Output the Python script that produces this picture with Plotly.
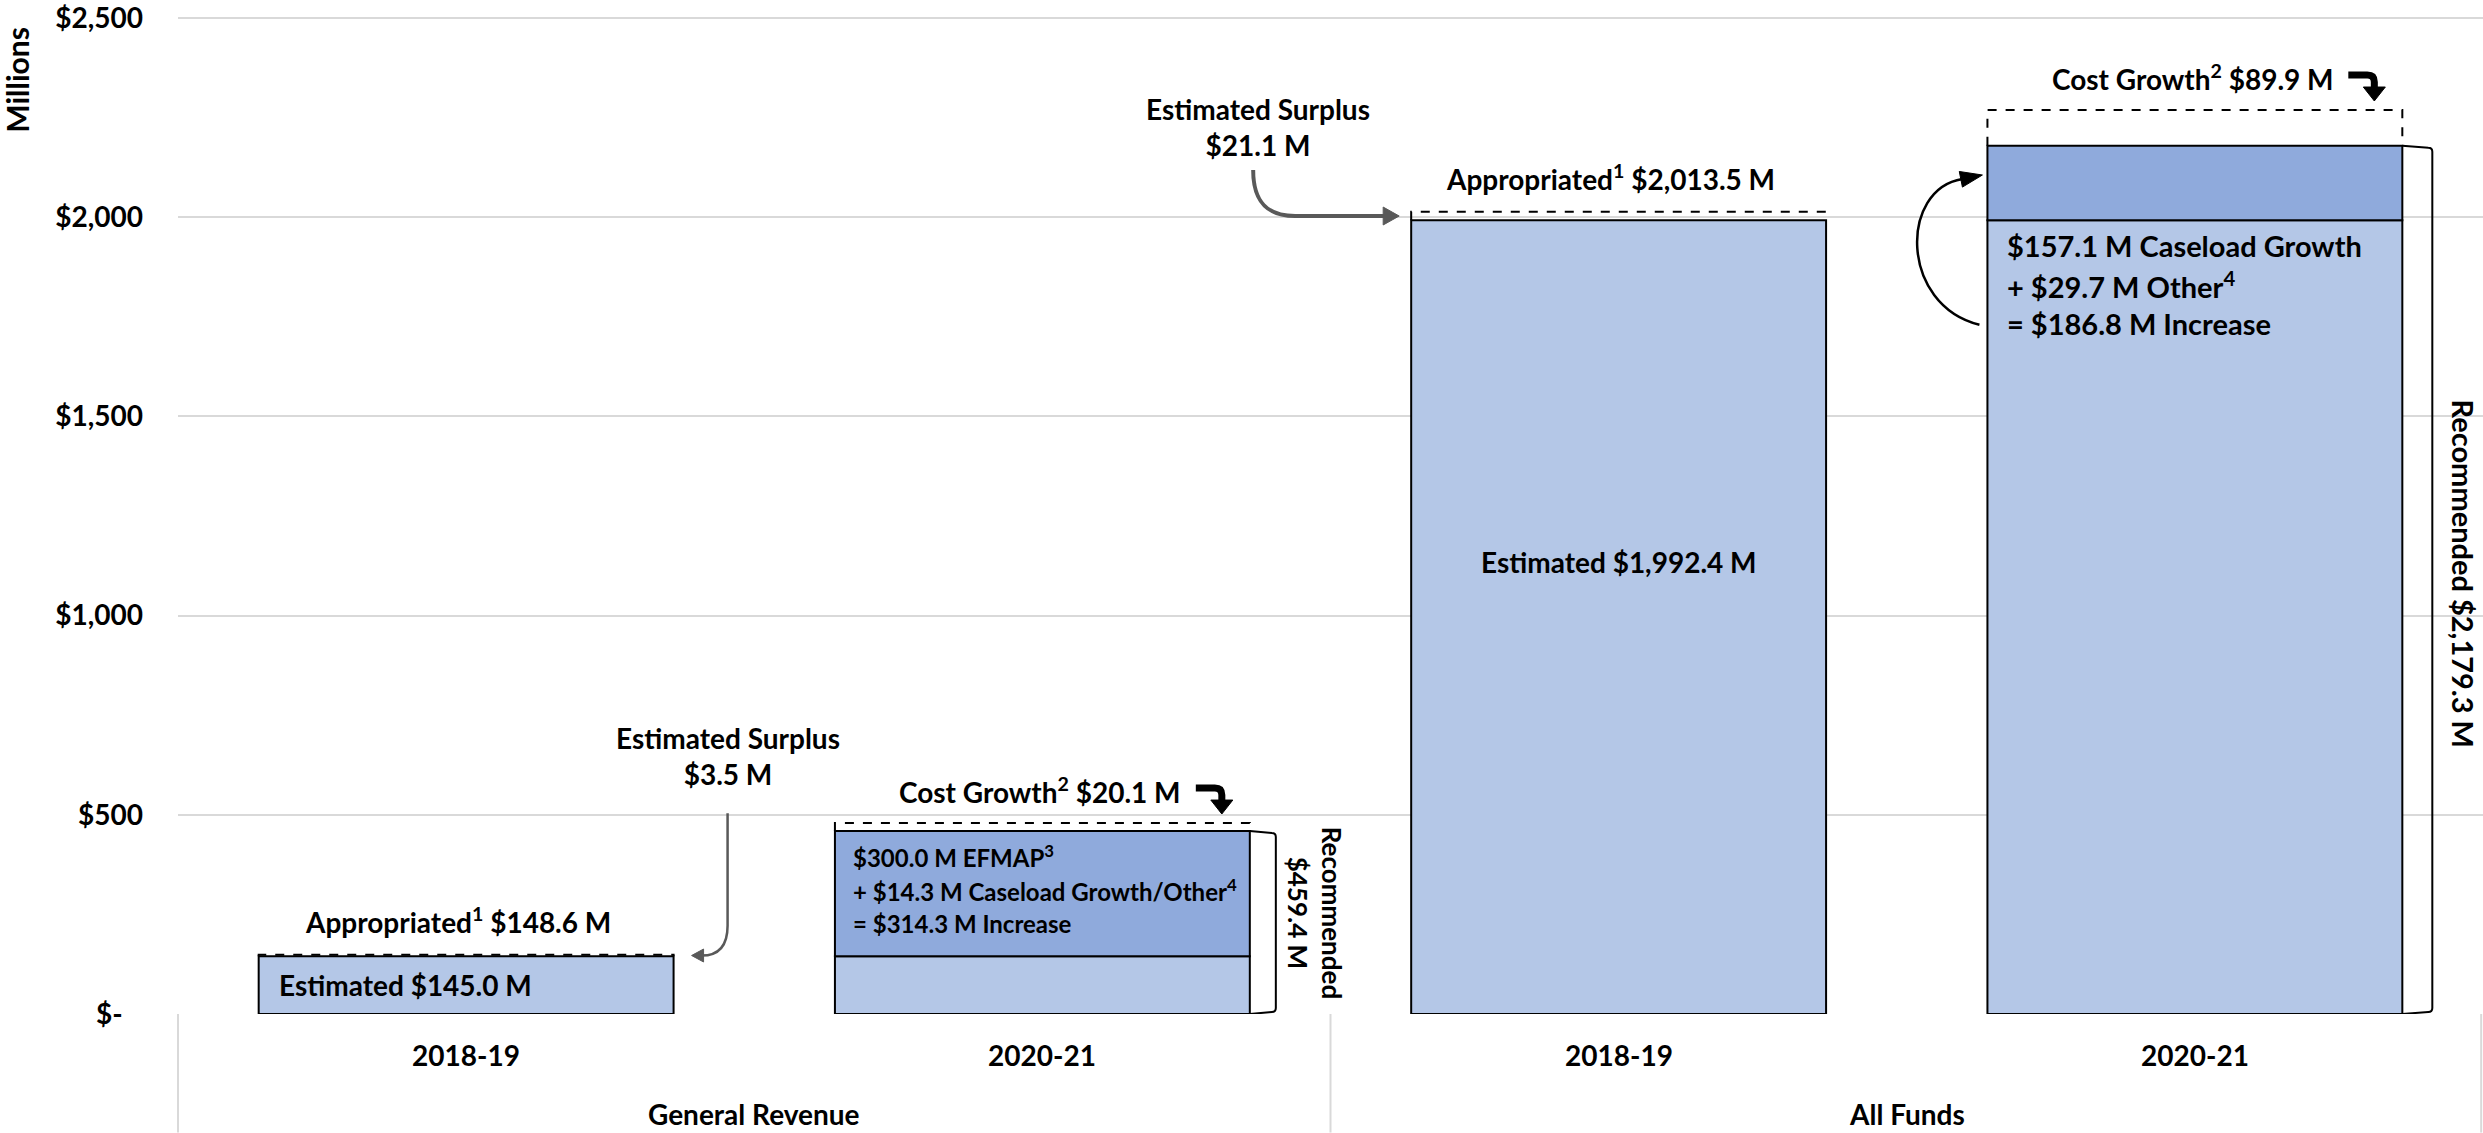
import math
import plotly.graph_objects as go

# ---- data ($ millions) ----
fund_groups = ["General Revenue", "All Funds"]
years = ["2018-19", "2020-21", "2018-19", "2020-21"]

# 2018-19: estimated spending vs. appropriation
estimated_1819 = [145.0, 1992.4]
appropriated_1819 = [148.6, 2013.5]
surplus_1819 = [3.5, 21.1]

# 2020-21: recommended total, increase over base, and cost growth not funded
recommended_2021 = [459.4, 2179.3]
increase_2021 = [314.3, 186.8]
cost_growth_2021 = [20.1, 89.9]

# 2020-21 increase detail text
gr_increase_lines = [
    "$300.0 M EFMAP<sup>3</sup>",
    "+ $14.3 M Caseload Growth/Other<sup>4</sup>",
    "= $314.3 M Increase",
]
af_increase_lines = [
    "$157.1 M Caseload Growth",
    "+ $29.7 M Other<sup>4</sup>",
    "= $186.8 M Increase",
]

y_tickvals = [0, 500, 1000, 1500, 2000, 2500]
y_ticktext = ["$-&nbsp;&nbsp;&nbsp;", "$500", "$1,000", "$1,500", "$2,000", "$2,500"]

# ---- layout geometry ----
W, H = 2483, 1133
M_L, M_R, M_T, M_B = 178, 0, 11, 119
X_RANGE = (-0.5, 3.5)
Y_RANGE = (0, 2507.5)
PLOT_W = W - M_L - M_R
PLOT_H = H - M_T - M_B
PX_X = PLOT_W / (X_RANGE[1] - X_RANGE[0])
PX_Y = PLOT_H / (Y_RANGE[1] - Y_RANGE[0])

BAR_W = 0.72
HALF = BAR_W / 2
LIGHT = "#B4C7E7"
DARK = "#8FAADC"
GRID = "#D9D9D9"
ARROW_GRAY = "#595959"
FONT = "Lato"

x_1819 = [0, 2]
x_2021 = [1, 3]
base_2021 = [round(r - i, 1) for r, i in zip(recommended_2021, increase_2021)]
top_2021 = [round(r + c, 1) for r, c in zip(recommended_2021, cost_growth_2021)]


def dx(px):
    return px / PX_X


def dy(px):
    return px / PX_Y


def P(x, y):
    return f"{x:.5f},{y:.4f}"


def head(tx, ty, ux, uy, length, width):
    """Filled triangle arrowhead; (ux, uy) is the pointing direction in screen px (y up)."""
    n = math.hypot(ux, uy)
    ux, uy = ux / n, uy / n
    bx, by = tx - dx(ux * length), ty - dy(uy * length)
    px_, py_ = -uy, ux
    p1 = (bx + dx(px_ * width / 2), by + dy(py_ * width / 2))
    p2 = (bx - dx(px_ * width / 2), by - dy(py_ * width / 2))
    return f"M {P(tx, ty)} L {P(*p1)} L {P(*p2)} Z"


fig = go.Figure()

# 2018-19 estimated bars
fig.add_trace(go.Bar(
    x=x_1819, y=estimated_1819, width=BAR_W,
    marker=dict(color=LIGHT, line=dict(color="black", width=2)),
    hoverinfo="skip", showlegend=False,
))
# 2020-21 base (prior level)
fig.add_trace(go.Bar(
    x=x_2021, y=base_2021, width=BAR_W,
    marker=dict(color=LIGHT, line=dict(color="black", width=2)),
    hoverinfo="skip", showlegend=False,
))
# 2020-21 recommended increase
fig.add_trace(go.Bar(
    x=x_2021, y=increase_2021, base=base_2021, width=BAR_W,
    marker=dict(color=DARK, line=dict(color="black", width=2)),
    hoverinfo="skip", showlegend=False,
))

shapes = []
annotations = []

# dashed outlines: appropriated above estimated, cost growth above recommended
for xs, lows, highs in ((x_1819, estimated_1819, appropriated_1819),
                        (x_2021, recommended_2021, top_2021)):
    for x, lo, hi in zip(xs, lows, highs):
        shapes.append(dict(
            type="path", xref="x", yref="y",
            path=f"M {P(x - HALF, lo)} L {P(x - HALF, hi)} L {P(x + HALF, hi)} L {P(x + HALF, lo)}",
            line=dict(color="black", width=2, dash="dash"),
        ))

# brackets beside the recommended bars
bracket_gap = [26, 30]
for x, rec, g in zip(x_2021, recommended_2021, bracket_gap):
    r = x + HALF
    bx = r + dx(g)
    path = (f"M {P(r, rec)} L {P(bx - dx(4), rec - dy(2))} "
            f"Q {P(bx, rec - dy(2))} {P(bx, rec - dy(6))} "
            f"L {P(bx, dy(6))} Q {P(bx, dy(2))} {P(bx - dx(4), dy(2))} L {P(r, 0)}")
    shapes.append(dict(type="path", xref="x", yref="y", path=path,
                       line=dict(color="black", width=2)))

# bent "cost growth" arrows
for x, top in zip(x_2021, top_2021):
    r = x + HALF
    xv = r - dx(28)
    x0 = r - dx(54)
    yh = top + dy(35)
    tip = top + dy(9)
    path = (f"M {P(x0, yh)} L {P(xv - dx(7), yh)} Q {P(xv, yh)} {P(xv, yh - dy(7))} "
            f"L {P(xv, tip + dy(12))}")
    shapes.append(dict(type="path", xref="x", yref="y", path=path,
                       line=dict(color="black", width=7)))
    shapes.append(dict(type="path", xref="x", yref="y",
                       path=head(xv, tip, 0, -1, 14, 22),
                       fillcolor="black", line=dict(color="black", width=1)))

# surplus arrows
# General Revenue: drops down from the label and turns left into the surplus band
gx = x_1819[0] + HALF
g_mid = (estimated_1819[0] + appropriated_1819[0]) / 2
g_xv = gx + dx(54)
g_top = appropriated_1819[0] + dy(142)
g_tipx = gx + dx(18)
path = (f"M {P(g_xv, g_top)} L {P(g_xv, g_mid + dy(30))} "
        f"Q {P(g_xv, g_mid)} {P(g_xv - dx(26), g_mid)} L {P(g_tipx + dx(10), g_mid)}")
shapes.append(dict(type="path", xref="x", yref="y", path=path,
                   line=dict(color=ARROW_GRAY, width=2.5)))
shapes.append(dict(type="path", xref="x", yref="y",
                   path=head(g_tipx, g_mid, -1, 0, 12, 13),
                   fillcolor=ARROW_GRAY, line=dict(color=ARROW_GRAY, width=1)))

# All Funds: curves down from the label and runs right into the surplus band
ax_left = x_1819[1] - HALF
a_mid = (estimated_1819[1] + appropriated_1819[1]) / 2
a_x0 = ax_left - dx(158)
a_y0 = appropriated_1819[1] + dy(42)
a_tipx = ax_left - dx(12)
path = (f"M {P(a_x0, a_y0)} C {P(a_x0, a_mid + dy(14))} {P(a_x0 + dx(14), a_mid)} "
        f"{P(a_x0 + dx(42), a_mid)} L {P(a_tipx - dx(14), a_mid)}")
shapes.append(dict(type="path", xref="x", yref="y", path=path,
                   line=dict(color=ARROW_GRAY, width=4)))
shapes.append(dict(type="path", xref="x", yref="y",
                   path=head(a_tipx, a_mid, 1, 0, 16, 18),
                   fillcolor=ARROW_GRAY, line=dict(color=ARROW_GRAY, width=1)))

# All Funds increase: curved arrow from the detail text back up to the increase block
fl = x_2021[1] - HALF
inc_mid = (base_2021[1] + recommended_2021[1]) / 2
s_y = base_2021[1] - dy(105)
s_x = fl - dx(8)
e_x, e_y = fl - dx(25), inc_mid + dy(4)
path = (f"M {P(s_x, s_y)} C {P(fl - dx(88), s_y + dy(20))} "
        f"{P(fl - dx(88), inc_mid - dy(6))} {P(e_x, e_y)}")
shapes.append(dict(type="path", xref="x", yref="y", path=path,
                   line=dict(color="black", width=2.5)))
shapes.append(dict(type="path", xref="x", yref="y",
                   path=head(fl - dx(5), e_y + dy(4), 1, 0.2, 22, 16),
                   fillcolor="black", line=dict(color="black", width=1)))

# category table lines below the plot
yb = -M_B / PLOT_H
for xr, xv in (("paper", 0), ("x", 1.5), ("paper", 0.9992)):
    shapes.append(dict(type="line", xref=xr, yref="paper", x0=xv, x1=xv, y0=0, y1=yb,
                       line=dict(color=GRID, width=2)))


# ---- text ----
def note(x, y, text, size=28, xanchor="center", yanchor="middle", xref="x", yref="y",
         angle=0, align="center"):
    annotations.append(dict(x=x, y=y, xref=xref, yref=yref, text=text, showarrow=False,
                            xanchor=xanchor, yanchor=yanchor, textangle=angle, align=align,
                            font=dict(family=FONT, size=size, color="black", weight="bold")))


# estimated labels
note(x_1819[0] - HALF + dx(18), estimated_1819[0] / 2, f"Estimated ${estimated_1819[0]:,.1f} M",
     xanchor="left")
note(x_1819[1], estimated_1819[1] * 0.57, f"Estimated ${estimated_1819[1]:,.1f} M")

# appropriated labels
for x, a in zip(x_1819, appropriated_1819):
    note(x - dx(8), a + dy(34), f"Appropriated<sup>1</sup> ${a:,.1f} M")

# surplus labels
note(g_xv, appropriated_1819[0] + dy(200), f"Estimated Surplus<br>${surplus_1819[0]:,.1f} M")
note(a_x0 + dx(5), appropriated_1819[1] + dy(85), f"Estimated Surplus<br>${surplus_1819[1]:,.1f} M")

# cost growth labels
for x, top, c in zip(x_2021, top_2021, cost_growth_2021):
    note(x - dx(2), top + dy(33), f"Cost Growth<sup>2</sup> ${c:,.1f} M")

# increase detail text
for line, off in zip(gr_increase_lines, (25, 59, 93)):
    note(x_2021[0] - HALF + dx(16), recommended_2021[0] - dy(off), line, size=24, xanchor="left")
for line, off in zip(af_increase_lines, (25, 65, 104)):
    note(x_2021[1] - HALF + dx(18), base_2021[1] - dy(off), line, size=29, xanchor="left")

# recommended labels (rotated)
gr_bx = x_2021[0] + HALF + dx(bracket_gap[0])
note(gr_bx + dx(57), recommended_2021[0] / 2 + dy(10), "Recommended", size=26, angle=90)
note(gr_bx + dx(23), recommended_2021[0] / 2 + dy(10), f"${recommended_2021[0]:,.1f} M",
     size=26, angle=90)
note(x_2021[1] + HALF + dx(bracket_gap[1] + 31), recommended_2021[1] / 2 + dy(6),
     f"Recommended ${recommended_2021[1]:,.1f} M", size=29, angle=90)

# category labels
for i, yr in enumerate(years):
    note(i, -41 / PLOT_H, yr, yref="paper")
for g, name in enumerate(fund_groups):
    note(0.5 + 2 * g, -100 / PLOT_H, name, yref="paper")

# axis unit label
note(-161 / PLOT_W, (PLOT_H - 65) / PLOT_H, "Millions", size=30, xref="paper", yref="paper",
     angle=-90)

fig.update_layout(
    width=W, height=H,
    margin=dict(l=M_L, r=M_R, t=M_T, b=M_B, pad=0),
    paper_bgcolor="white", plot_bgcolor="white",
    barmode="overlay",
    font=dict(family=FONT, size=28, color="black", weight="bold"),
    xaxis=dict(range=list(X_RANGE), showgrid=False, zeroline=False, showline=False,
               showticklabels=False, fixedrange=True),
    yaxis=dict(range=list(Y_RANGE), tickvals=y_tickvals, ticktext=y_ticktext,
               showgrid=True, gridcolor=GRID, gridwidth=2, zeroline=False, showline=False,
               ticks="", ticklabelstandoff=34, ticklabeloverflow="allow",
               tickfont=dict(family=FONT, size=28, color="black", weight="bold"),
               fixedrange=True),
    shapes=shapes,
    annotations=annotations,
    showlegend=False,
)

fig.write_html("out.html")
